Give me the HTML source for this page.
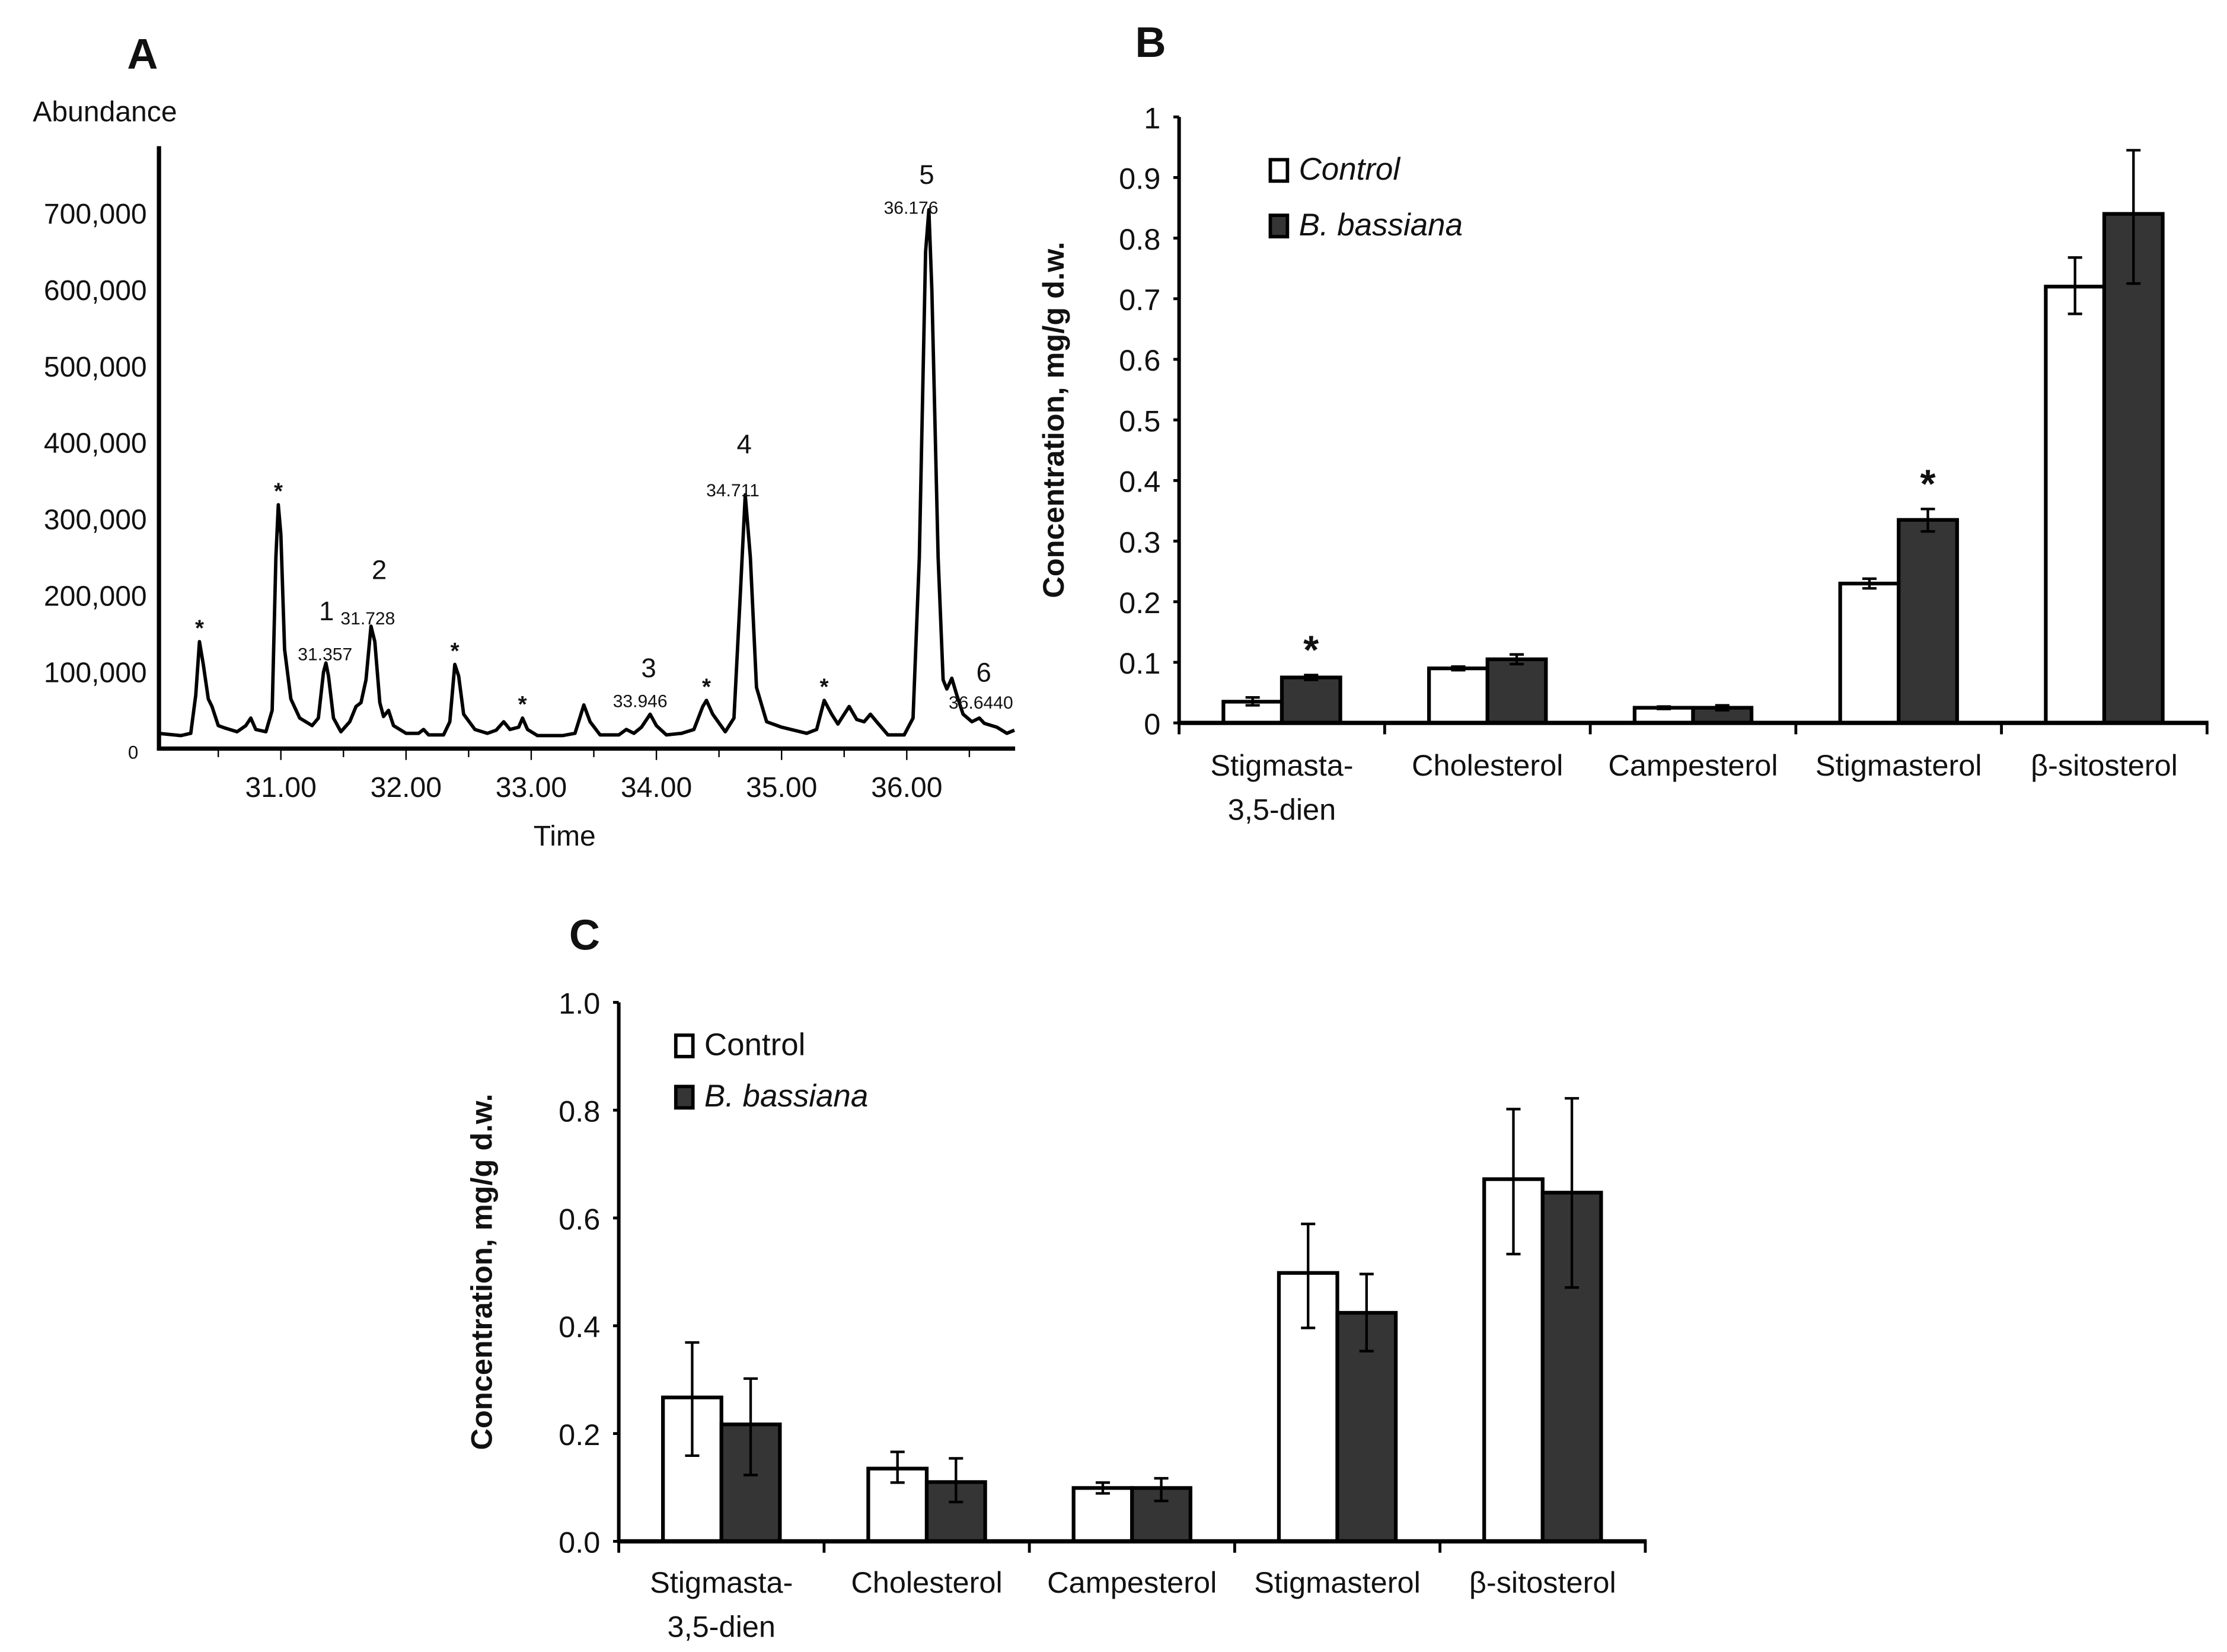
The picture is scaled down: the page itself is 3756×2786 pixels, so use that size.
<!DOCTYPE html>
<html><head><meta charset="utf-8"><style>
html,body{margin:0;padding:0;background:#fff}
svg{display:block}
text{font-family:"Liberation Sans Narrow","Liberation Sans",sans-serif;fill:#111}
.b{font-family:"Liberation Sans",sans-serif;font-weight:bold}
</style></head><body>
<svg id="fig" width="3756" height="2786" viewBox="0 0 1562 1158.6" xmlns="http://www.w3.org/2000/svg">
<rect width="1562" height="1158.6" fill="#fff"/>
<g id="pa"></g>
<g id="pb"></g>
<g id="pc"></g>
</svg>
<script>
// ---- Panel A data ----
const chromTimes = [30.02,30.20,30.28,30.32,30.35,30.38,30.42,30.45,30.50,30.55,30.65,30.72,30.76,30.80,30.88,30.93,30.96,30.98,31.00,31.03,31.08,31.15,31.25,31.30,31.34,31.36,31.38,31.42,31.48,31.55,31.60,31.64,31.68,31.72,31.75,31.79,31.82,31.86,31.90,32.00,32.10,32.14,32.18,32.30,32.35,32.39,32.42,32.46,32.55,32.65,32.72,32.78,32.83,32.90,32.93,32.97,33.05,33.25,33.35,33.42,33.47,33.55,33.70,33.76,33.82,33.88,33.95,34.00,34.08,34.20,34.30,34.37,34.40,34.45,34.55,34.62,34.67,34.71,34.75,34.80,34.88,35.00,35.20,35.28,35.34,35.40,35.45,35.50,35.54,35.60,35.66,35.71,35.76,35.85,35.98,36.05,36.10,36.15,36.176,36.20,36.25,36.29,36.32,36.36,36.40,36.45,36.52,36.58,36.62,36.72,36.80,36.86];
const chromAbund = [20,17,20,70,140,110,65,55,30,27,22,30,40,25,22,50,250,319,280,130,65,40,30,40,100,112,95,40,22,35,55,60,90,160,140,60,42,50,30,20,20,25,18,18,35,110,95,45,25,20,24,35,25,28,40,25,17,17,20,57,35,18,18,25,20,28,45,30,18,20,25,55,63,45,22,40,200,332,250,80,35,28,20,25,63,45,32,45,55,38,35,45,35,18,18,40,250,650,705,600,250,90,78,92,70,45,35,40,33,28,20,24];
const aYTicks = [0,100,200,300,400,500,600,700];
const aYTickLabels = ["0","100,000","200,000","300,000","400,000","500,000","600,000","700,000"];
const aXTicks = [31,32,33,34,35,36];
const aXTickLabels = ["31.00","32.00","33.00","34.00","35.00","36.00"];
const starTimes = [30.35,30.98,32.39,32.93,34.40,35.34];
const starAbund = [140,319,110,40,63,63];

// ---- Panel B data ----
const catLines1 = ["Stigmasta-","Cholesterol","Campesterol","Stigmasterol","β-sitosterol"];
const catLines2 = ["3,5-dien","","","",""];
const bControl = [0.035,0.090,0.025,0.230,0.720];
const bControlLo = [0.029,0.087,0.023,0.222,0.675];
const bControlHi = [0.042,0.093,0.027,0.238,0.768];
const bBass = [0.075,0.105,0.025,0.335,0.840];
const bBassLo = [0.071,0.097,0.021,0.316,0.725];
const bBassHi = [0.079,0.113,0.029,0.353,0.945];
const bYTicks = [0,0.1,0.2,0.3,0.4,0.5,0.6,0.7,0.8,0.9,1];
const bYTickLabels = ["0","0.1","0.2","0.3","0.4","0.5","0.6","0.7","0.8","0.9","1"];

// ---- Panel C data ----
const cControl = [0.267,0.135,0.099,0.498,0.672];
const cControlLo = [0.159,0.109,0.089,0.396,0.533];
const cControlHi = [0.369,0.166,0.109,0.589,0.802];
const cBass = [0.217,0.110,0.099,0.424,0.647];
const cBassLo = [0.123,0.073,0.075,0.353,0.471];
const cBassHi = [0.302,0.154,0.117,0.496,0.822];
const cYTicks = [0,0.2,0.4,0.6,0.8,1.0];
const cYTickLabels = ["0.0","0.2","0.4","0.6","0.8","1.0"];

const NS="http://www.w3.org/2000/svg";
function mk(parent, tag, attrs, txt){
  const e=document.createElementNS(NS,tag);
  for(const k in attrs) e.setAttribute(k,attrs[k]);
  if(txt!==undefined) e.textContent=txt;
  parent.appendChild(e); return e;
}

// ===== Panel A =====
(function(){
  const g=document.getElementById('pa');
  const xA=t=>197+(t-31)*87.8;
  const yA=k=>525-k*0.536;
  let t=mk(g,'text',{x:100,y:48,'font-size':30,'text-anchor':'middle',class:'b'},'A');
  
  
  t=mk(g,'text',{x:23,y:85,'font-size':20},'Abundance');
  
  
  let l=mk(g,'line',{x1:111.5,y1:102.5,x2:111.5,y2:526,stroke:'#000','stroke-width':3});
  
  
  l=mk(g,'line',{x1:110,y1:525,x2:712,y2:525,stroke:'#000','stroke-width':3});
  
  
  for(let m=30.5;m<=36.8;m+=0.5){
    const tk=mk(g,'line',{x1:xA(m),y1:525,x2:xA(m),y2:Number.isInteger(m)?533:531,stroke:'#000','stroke-width':1});
    
    
  }
  aYTicks.forEach((v,i)=>{
    const e=mk(g,'text',{x:i===0?97:103,y:yA(v)+7,'font-size':i===0?13:20,'text-anchor':'end'},aYTickLabels[i]);
    
    
  });
  aXTicks.forEach((v,i)=>{
    const e=mk(g,'text',{x:xA(v),y:559,'font-size':20,'text-anchor':'middle'},aXTickLabels[i]);
    
    
  });
  t=mk(g,'text',{x:396,y:593,'font-size':20,'text-anchor':'middle'},'Time');
  
  
  const pts=chromTimes.map((tt,i)=>xA(tt).toFixed(1)+','+yA(chromAbund[i]).toFixed(1)).join(' ');
  const pl=mk(g,'polyline',{points:pts,fill:'none',stroke:'#000','stroke-width':2.4,'stroke-linejoin':'round'});
  
  
  starTimes.forEach((s,i)=>{
    const e=mk(g,'text',{x:xA(s),y:yA(starAbund[i])-4,'font-size':16,'text-anchor':'middle',class:'b'},'*');
    
    
  });
  const peakLabels=[["1",229,435,19],["31.357",228,463,12.5],["2",266,406,19],["31.728",258,438,12.5],["3",455,475,19],["33.946",449,496,12.5],["4",522,318,19],["34.711",514,348,12.5],["5",650,129,19],["36.176",639,150,12.5],["6",690,478,19],["36.6440",688,497,12.5]];
  peakLabels.forEach(p=>{
    const e=mk(g,'text',{x:p[1],y:p[2],'font-size':p[3],'text-anchor':'middle',fill:'#222'},p[0]);
    
    
  });
})();

// ===== Bar panel builder =====
function barPanel(g, o){
  const yS=v=>o.y0-(v/o.vmax)*(o.y0-o.y1);
  const catW=(o.xEnd-o.x0)/5;
  const bw=o.bw;
  let t=mk(g,'text',{x:o.lx,y:o.ly,'font-size':30,'text-anchor':'middle',class:'b'},o.letter);
  
  
  t=mk(g,'text',{x:0,y:0,'font-size':21,'text-anchor':'middle',class:'b',transform:`translate(${o.titleX},${(o.y0+o.y1)/2}) rotate(-90)`},'Concentration, mg/g d.w.');
  
  
  for(let i=0;i<5;i++){
    const gx=o.x0+i*catW+(catW-2*bw)/2;
    [[o.ctrl,o.ctrlLo,o.ctrlHi,'#fff',gx],[o.bass,o.bassLo,o.bassHi,'#353535',gx+bw]].forEach((s,j)=>{
      const r=mk(g,'rect',{x:s[4],y:yS(s[0][i]),width:bw,height:o.y0-yS(s[0][i]),fill:s[3],stroke:'#000','stroke-width':2.6});
      
      
      const cx=s[4]+bw/2;
      const eb=mk(g,'path',{d:`M${cx},${yS(s[1][i])}V${yS(s[2][i])}M${cx-5},${yS(s[1][i])}H${cx+5}M${cx-5},${yS(s[2][i])}H${cx+5}`,stroke:'#000','stroke-width':1.8,fill:'none'});
      
      
    });
    let e=mk(g,'text',{x:o.x0+(i+0.5)*catW,y:o.catY,'font-size':21,'text-anchor':'middle'},catLines1[i]);
    
    
    if(catLines2[i]){
      e=mk(g,'text',{x:o.x0+(i+0.5)*catW,y:o.catY+31,'font-size':21,'text-anchor':'middle'},catLines2[i]);
      
      
    }
  }
  let a=mk(g,'line',{x1:o.x0,y1:o.y1,x2:o.x0,y2:o.y0+1,stroke:'#000','stroke-width':2.5});
  
  
  a=mk(g,'line',{x1:o.x0-1,y1:o.y0,x2:o.xEnd+1,y2:o.y0,stroke:'#000','stroke-width':3});
  
  
  for(let i=0;i<=5;i++){
    const tk=mk(g,'line',{x1:o.x0+i*catW,y1:o.y0,x2:o.x0+i*catW,y2:o.y0+8,stroke:'#000','stroke-width':2});
    
    
  }
  o.ticks.forEach((v,i)=>{
    const tk=mk(g,'line',{x1:o.x0-4,y1:yS(v),x2:o.x0,y2:yS(v),stroke:'#000','stroke-width':2});
    
    
    const e=mk(g,'text',{x:o.x0-13,y:yS(v)+8,'font-size':21,'text-anchor':'end'},o.tickLabels[i]);
    
    
  });
  let r=mk(g,'rect',{x:o.legX,y:o.legY,width:12,height:15,fill:'#fff',stroke:'#000','stroke-width':2.4});
  
  
  let e=mk(g,'text',{x:o.legX+20,y:o.legY+14,'font-size':22,'font-style':o.italicCtrl?'italic':'normal'},'Control');
  
  
  r=mk(g,'rect',{x:o.legX,y:o.legY+o.legGap,width:12,height:15,fill:'#353535',stroke:'#000','stroke-width':2.4});
  
  
  e=mk(g,'text',{x:o.legX+20,y:o.legY+o.legGap+14,'font-size':22,'font-style':'italic'},'B. bassiana');
  
  
  (o.stars||[]).forEach(i=>{
    const s=mk(g,'text',{x:o.x0+i*catW+(catW-2*bw)/2+bw*1.5,y:yS(o.bassHi[i])-8,'font-size':28,'text-anchor':'middle',class:'b'},'*');
    
    
  });
}

barPanel(document.getElementById('pb'),{
  x0:827,xEnd:1548,y0:507,y1:82,vmax:1,bw:41,
  ctrl:bControl,ctrlLo:bControlLo,ctrlHi:bControlHi,bass:bBass,bassLo:bBassLo,bassHi:bBassHi,
  ticks:bYTicks,tickLabels:bYTickLabels,letter:'B',lx:807,ly:40,titleX:746,catY:544,
  legX:891,legY:112,legGap:39,italicCtrl:true,stars:[0,3]
});
barPanel(document.getElementById('pc'),{
  x0:434,xEnd:1154,y0:1081,y1:703,vmax:1,bw:41,
  ctrl:cControl,ctrlLo:cControlLo,ctrlHi:cControlHi,bass:cBass,bassLo:cBassLo,bassHi:cBassHi,
  ticks:cYTicks,tickLabels:cYTickLabels,letter:'C',lx:410,ly:666,titleX:345,catY:1117,
  legX:474,legY:726,legGap:36,italicCtrl:false,stars:[]
});
</script>
</body></html>
